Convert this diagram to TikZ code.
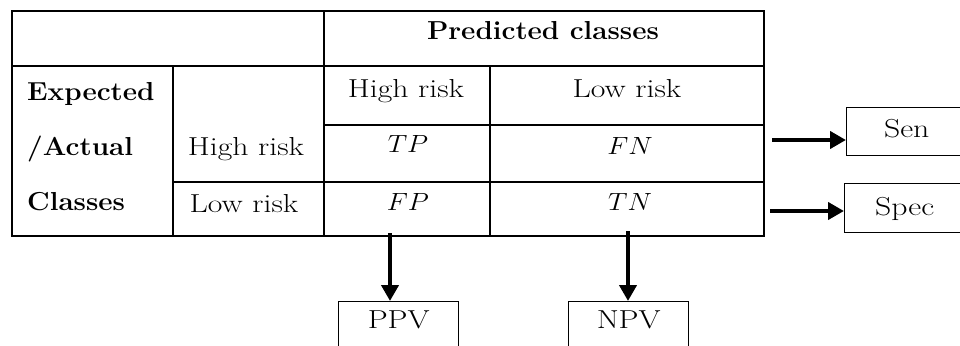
\documentclass[tikz,border=0pt]{standalone}
\usepackage{graphicx}
\usetikzlibrary{arrows.meta}
% the cell lettering is set wide
\newcommand\widetext[1]{\scalebox{1.22}[1]{#1}}
\newcommand\widebold[1]{\scalebox{1.07}[1]{\bfseries #1}}
\newcommand\widemath[1]{\scalebox{1.1}[1]{$#1$}}
\begin{document}
\begin{tikzpicture}[x=1pt,y=-1pt,
  rule/.style={line width=1.4pt},
  txt/.style={font=\fontsize{26}{30}\selectfont, inner sep=0pt, anchor=base},
  outbox/.style={draw, line width=1.4pt, inner sep=0pt, minimum width=120pt,
    font=\fontsize{26}{30}\selectfont, anchor=north west},
  bigarrow/.style={line width=4pt, -{Triangle[length=16pt,width=17pt]}}
]
\useasboundingbox (0,0) rectangle (960,345);
\clip (0,0) rectangle (960,345);

% table frame and rules
\draw[rule] (12,11) rectangle (764,236);
\draw[rule] (12,66) -- (764,66);
\draw[rule] (324,125) -- (764,125);
\draw[rule] (173,182) -- (764,182);
\draw[rule] (324,11) -- (324,236);
\draw[rule] (173,66) -- (173,236);
\draw[rule] (490,66) -- (490,236);

% header cells
\node[txt] (pred) at (543,40) {\widebold{Predicted classes}};
\node[txt, anchor=base west] (expd) at (27,100) {\widebold{Expected}};
\node[txt, anchor=base west] (actl) at (27,155) {\widebold{/Actual}};
\node[txt, anchor=base west] (clss) at (27,210) {\widebold{Classes}};

% row and column labels
\node[txt] (rhigh) at (246,155) {\widetext{High risk}};
\node[txt] (rlow) at (244,212) {\widetext{Low risk}};
\node[txt] (chigh) at (406,97) {\widetext{High risk}};
\node[txt] (clow) at (627,97) {\widetext{Low risk}};

% confusion counts
\node[txt] (tp) at (408,152) {\widemath{TP}};
\node[txt] (fn) at (630,154) {\widemath{FN}};
\node[txt] (fp) at (408,210) {\widemath{FP}};
\node[txt] (tn) at (630,210) {\widemath{TN}};

% derived measures
\node[outbox, text height=30pt, text depth=18pt] (sen) at (846,107) {\widetext{Sen}};
\node[outbox, text height=32pt, text depth=17pt] (spec) at (844,183) {\widetext{Spec}};
\node[outbox, text height=27pt, text depth=40pt] (ppv) at (338,301) {\widetext{PPV}};
\node[outbox, text height=27pt, text depth=40pt] (npv) at (568,301) {\widetext{NPV}};

% arrow tails just outside the table
\coordinate (senTail) at (772,140);
\coordinate (specTail) at (770,211);
\coordinate (ppvTail) at (390,233);
\coordinate (npvTail) at (628,231);

\draw[bigarrow] (senTail) -- (senTail -| sen.west);
\draw[bigarrow] (specTail) -- (specTail -| spec.west);
\draw[bigarrow] (ppvTail) -- (ppvTail |- ppv.north);
\draw[bigarrow] (npvTail) -- (npvTail |- npv.north);
\end{tikzpicture}
\end{document}
